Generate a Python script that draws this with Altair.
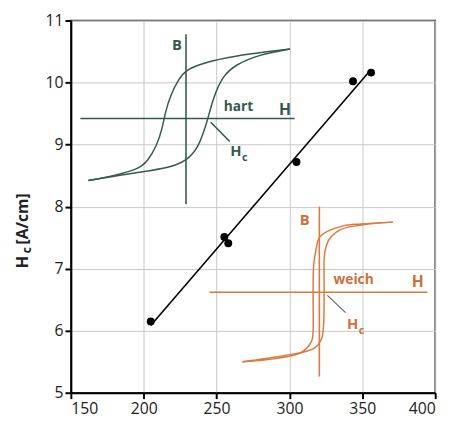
import altair as alt
import pandas as pd

# measured data points
px = [204.8, 255.3, 258.0, 304.8, 343.6, 356.0]
py = [6.15, 7.51, 7.41, 8.72, 10.02, 10.16]

# hard loop (hart), each branch listed with x ascending
hard_up_x = [162.0, 180.0, 195.8, 202.6, 209.3, 212.7, 214.9, 218.3, 223.9, 229.5, 240.8, 263.2, 285.6, 300.3]
hard_up_y = [8.42, 8.50, 8.60, 8.72, 9.00, 9.26, 9.53, 9.79, 10.06, 10.21, 10.32, 10.43, 10.50, 10.54]
hard_lo_x = [162.0, 180.0, 195.8, 218.3, 229.5, 237.4, 241.9, 244.1, 247.5, 254.2, 263.2, 279.0, 300.3]
hard_lo_y = [8.42, 8.49, 8.55, 8.63, 8.74, 8.95, 9.26, 9.42, 9.74, 10.11, 10.29, 10.45, 10.54]

# soft loop (weich)
soft_up_x = [371.0, 349.0, 337.0, 326.0, 320.5, 318.3, 316.6, 316.2, 316.2, 315.3, 308.2, 290.4, 267.7]
soft_up_y = [7.75, 7.72, 7.69, 7.60, 7.50, 7.32, 7.05, 6.62, 6.00, 5.84, 5.65, 5.55, 5.50]
soft_lo_x = [267.7, 296.9, 317.1, 322.0, 323.4, 323.8, 324.3, 327.2, 335.0, 348.6, 371.0]
soft_lo_y = [5.50, 5.60, 5.72, 5.87, 6.09, 6.62, 7.27, 7.47, 7.63, 7.70, 7.75]

# loop axes and pointers: x, y, x2, y2
hard_rules = [(229.0, 8.04, 229.0, 10.78), (156.5, 9.42, 303.6, 9.42), (246.0, 9.36, 259.0, 9.05)]
soft_rules = [(320.5, 5.26, 320.5, 8.0), (245.2, 6.62, 394.6, 6.62)]
soft_ptr = [(326.0, 6.57, 338.5, 6.29)]

HARD = "#35594f"
SOFT = "#dc7a3e"
SOFT_TXT = "#cf6f3a"

xs = alt.Scale(domain=[150, 400], nice=False)
ys = alt.Scale(domain=[5, 11], nice=False)

def curve_df(branches):
    rows = []
    for b, (xx, yy) in enumerate(branches):
        for i, (a, c) in enumerate(zip(xx, yy)):
            rows.append({"x": a, "y": c, "b": b, "i": i})
    return pd.DataFrame(rows)

def rule_df(r):
    return pd.DataFrame(r, columns=["x", "y", "x2", "y2"])

pts = pd.DataFrame({"x": px, "y": py})

base_x = alt.X("x:Q", scale=xs, axis=alt.Axis(values=[150, 200, 250, 300, 350, 400], title=None, format="d"))
base_y = alt.Y("y:Q", scale=ys, axis=alt.Axis(values=[5, 6, 7, 8, 9, 10, 11], title=None, format="d"))

points = alt.Chart(pts).mark_circle(size=65, color="black", opacity=1).encode(x=base_x, y=base_y)
fit = alt.Chart(pts).transform_regression("x", "y").mark_line(color="black", strokeWidth=1.6).encode(
    x=alt.X("x:Q", scale=xs), y=alt.Y("y:Q", scale=ys))

def curves(df, color, interp):
    return alt.Chart(df).mark_line(color=color, strokeWidth=1.5, interpolate=interp).encode(
        x=alt.X("x:Q", scale=xs), y=alt.Y("y:Q", scale=ys), detail="b:N", order="i:Q")

def rules(df, color, w=1.6):
    return alt.Chart(df).mark_rule(color=color, strokeWidth=w).encode(
        x=alt.X("x:Q", scale=xs), y=alt.Y("y:Q", scale=ys), x2="x2:Q", y2="y2:Q")

hard_c = curves(curve_df([(hard_up_x, hard_up_y), (hard_lo_x, hard_lo_y)]), HARD, "basis")
soft_c = curves(curve_df([(soft_up_x, soft_up_y), (soft_lo_x, soft_lo_y)]), SOFT, "catmull-rom")
hard_r = rules(rule_df(hard_rules), HARD)
soft_r = rules(rule_df(soft_rules), SOFT)
soft_p = rules(rule_df(soft_ptr), "#666666", 1.2)

labels = pd.DataFrame([
    {"x": 222.8, "y": 10.61, "t": "B", "c": HARD, "s": 15},
    {"x": 265.0, "y": 9.61, "t": "hart", "c": HARD, "s": 14},
    {"x": 297.0, "y": 9.55, "t": "H", "c": HARD, "s": 16},
    {"x": 263.2, "y": 8.90, "t": "H", "c": HARD, "s": 15},
    {"x": 269.3, "y": 8.79, "t": "c", "c": HARD, "s": 11},
    {"x": 310.4, "y": 7.79, "t": "B", "c": SOFT_TXT, "s": 15},
    {"x": 344.0, "y": 6.81, "t": "weich", "c": SOFT_TXT, "s": 14},
    {"x": 388.0, "y": 6.79, "t": "H", "c": SOFT_TXT, "s": 16},
    {"x": 343.4, "y": 6.10, "t": "H", "c": SOFT_TXT, "s": 15},
    {"x": 349.5, "y": 6.00, "t": "c", "c": SOFT_TXT, "s": 11},
])
text = alt.Chart(labels).mark_text(font="Open Sans", fontWeight="bold", align="center", baseline="middle").encode(
    x=alt.X("x:Q", scale=xs), y=alt.Y("y:Q", scale=ys), text="t:N",
    color=alt.Color("c:N", scale=None), size=alt.Size("s:Q", scale=None))

title_parts = pd.DataFrame([
    {"t": "H", "px": -49, "py": 246, "s": 17},
    {"t": "c", "px": -45, "py": 234, "s": 12},
    {"t": "[A/cm]", "px": -49, "py": 202, "s": 16},
])
ytitle = alt.Chart(title_parts).mark_text(font="Open Sans", fontWeight="bold", angle=270, align="center",
                                          baseline="middle", color="#222").encode(
    x=alt.X("px:Q", scale=None), y=alt.Y("py:Q", scale=None), text="t:N", size=alt.Size("s:Q", scale=None))

chart = alt.layer(hard_r, soft_r, soft_p, hard_c, soft_c, fit, points, text, ytitle).properties(
    width=371, height=379,
    autosize=alt.AutoSizeParams(type="none"),
    padding={"left": 64, "top": 9, "right": 12, "bottom": 22},
    background="white",
).configure_view(stroke="#222", strokeWidth=1.5).configure_axis(
    domainColor="black", domainWidth=2, tickColor="black", tickWidth=2, tickSize=6,
    gridColor="#c8c8c8", gridWidth=1, labelFont="Open Sans", labelFontSize=16, labelColor="#222",
    labelPadding=2,
)

chart.save("out.html", embed_options={"renderer": "svg", "actions": False})
